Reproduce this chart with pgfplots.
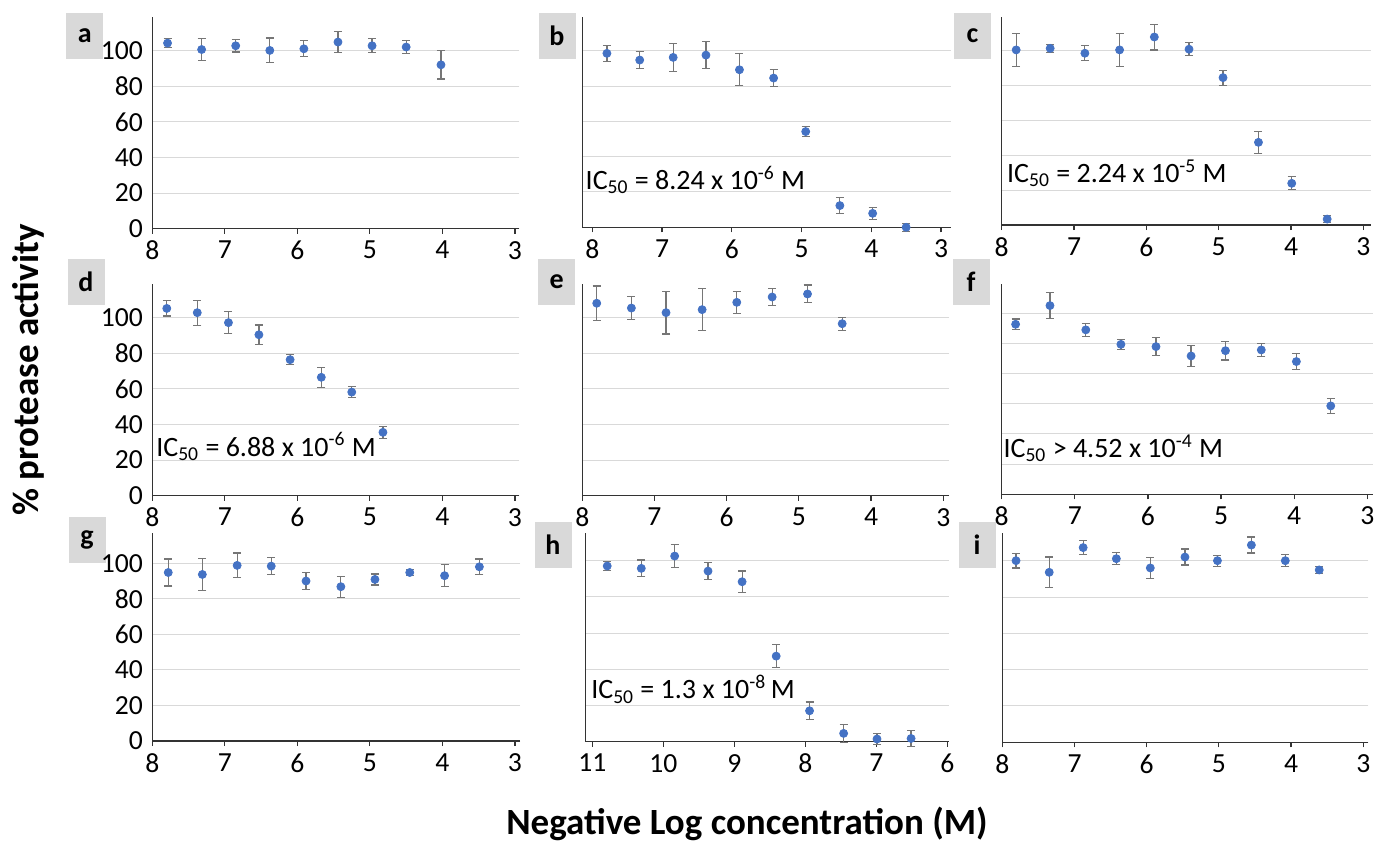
\documentclass[border=0pt]{standalone}
\usepackage{fontspec}
\setmainfont{Carlito}
\usepackage{pgfplots}
\usepackage{pgfplotstable}
\pgfplotsset{compat=1.18}
\definecolor{dotblue}{HTML}{4472C4}
\definecolor{gridgray}{HTML}{D9D9D9}
\definecolor{boxgray}{HTML}{D9D9D9}
\definecolor{errgray}{HTML}{767676}

% panel data: x = -log conc, y = % activity, e = error
\pgfplotstableread{
x y e
7.79 104.3 2.6
7.32 100.7 6.0
6.85 102.8 3.5
6.38 100.2 7.0
5.91 101.1 4.5
5.44 104.9 6.0
4.97 102.8 4.0
4.50 102.1 3.5
4.02 92.1 8.0
}\dataa
\pgfplotstableread{
x y e
7.79 98.5 4.5
7.32 94.7 5.0
6.84 96.2 8.0
6.37 97.5 7.5
5.89 89.2 9.0
5.40 84.5 4.7
4.94 54.2 2.8
4.45 12.3 4.4
3.98 7.9 3.3
3.50 0.0 2.3
}\datab
\pgfplotstableread{
x y e
7.80 100.4 9.6
7.33 101.3 2.4
6.85 98.5 4.4
6.37 100.4 9.6
5.89 107.8 7.4
5.41 100.8 3.7
4.94 84.5 4.3
4.45 47.4 6.4
3.99 23.9 3.7
3.50 3.4 2.0
}\datac
\pgfplotstableread{
x y e
7.80 105.2 4.3
7.38 102.8 7.0
6.95 97.2 6.2
6.53 90.4 5.5
6.10 76.4 2.9
5.67 66.5 5.6
5.25 58.2 3.2
4.82 35.6 3.3
}\datad
\pgfplotstableread{
x y e
7.80 108.1 9.7
7.32 105.4 6.3
6.84 102.8 12.0
6.34 104.5 11.9
5.86 108.6 6.2
5.37 111.6 4.6
4.88 113.3 5.0
4.40 96.6 3.6
}\datae
\pgfplotstableread{
x y e
7.81 112.7 3.5
7.34 125.1 8.5
6.85 109.0 4.2
6.37 99.4 3.4
5.89 97.9 6.1
5.41 91.7 7.0
4.94 95.2 6.2
4.45 95.7 4.2
3.97 88.0 5.5
3.50 58.6 4.9
}\dataf
\pgfplotstableread{
x y e
7.78 94.9 7.6
7.31 93.8 9.1
6.83 98.9 7.0
6.36 98.5 4.7
5.88 90.1 4.7
5.40 86.9 5.9
4.93 91.0 3.1
4.45 94.9 1.6
3.97 93.1 6.3
3.49 98.1 4.4
}\datag
\pgfplotstableread{
x y e
10.79 97.1 2.4
10.31 95.8 4.6
9.84 102.6 6.2
9.37 94.3 4.7
8.89 88.4 5.9
8.41 47.3 6.4
7.94 17.1 4.8
7.46 4.6 5.0
6.99 1.5 3.0
6.51 1.8 4.6
}\datah
\pgfplotstableread{
x y e
7.81 100.0 4.0
7.35 93.6 8.4
6.88 107.2 4.0
6.42 101.1 3.3
5.95 96.0 5.9
5.47 102.0 4.4
5.02 100.0 3.0
4.55 108.6 4.4
4.08 100.0 3.3
3.61 94.9 2.0
}\datai

\pgfplotsset{
  panel/.style={
    scale only axis,
    anchor=south west,
    axis x line=bottom, axis y line=left,
    axis line style={-, draw=black!80, line width=0.6pt},
    x dir=reverse,
    ymin=0,
    ytick={0,20,...,100},
    ymajorgrids,
    grid style={draw=gridgray, line width=0.5pt},
    ytick style={draw=none},
    xtick={3,...,8},
    xtick style={draw=black!80, line width=0.6pt},
    tick align=outside,
    major tick length=2.5pt,
    /pgf/number format/assume math mode=true,
    tick label style={font=\fontsize{13.8}{14}\selectfont},
    yticklabel style={inner sep=0pt, xshift=-2pt},
    xticklabel style={inner sep=0pt, yshift=-3.5pt},
    clip=false,
  },
  noylab/.style={yticklabels={}},
  pts/.style={only marks, mark=*, mark size=2pt,
    mark options={draw=dotblue, fill=dotblue},
    error bars/.cd, y dir=both, y explicit,
    error bar style={draw=errgray, line width=0.6pt},
    error mark options={rotate=90, mark size=2pt, draw=errgray, line width=0.6pt}},
}
\newcommand{\icfont}{\fontsize{14}{16}\selectfont}
\newcommand{\addpts}[1]{\addplot[pts] table[x=x, y=y, y error=e] {#1};}

\begin{document}
\begin{tikzpicture}
\useasboundingbox (0,0) rectangle (692pt,-420.5pt);

% panel letters
\foreach \lab/\px/\py in {a/42.35/-17.9, b/278.5/-17.9, c/486.25/-17.9,
    d/43/-141, e/278.35/-141, f/485.5/-141,
    g/43.5/-270, h/276.5/-272.5, i/488.5/-272.5}{
  \node[fill=boxgray, minimum width=18.5pt, minimum height=22.75pt, inner sep=0pt,
    font=\bfseries\fontsize{14}{14}\selectfont] at (\px pt,\py pt) {\lab};
}

% row 1
\begin{axis}[panel, at={(76.15pt,-114.35pt)}, width=183.5pt, height=105.7pt,
  xmin=2.94, xmax=8, ymax=118.8]
\addpts{\dataa}
\end{axis}
\begin{axis}[panel, noylab, at={(291.15pt,-113.65pt)}, width=184.2pt, height=105pt,
  xmin=2.861, xmax=8.143, ymax=118.9]
\addpts{\datab}
\node[anchor=west, inner sep=0pt, font=\icfont] at (axis cs:8.10,26.8)
  {IC\textsubscript{50} = 8.24 x 10\textsuperscript{-6} M};
\end{axis}
\begin{axis}[panel, noylab, at={(500.85pt,-112.5pt)}, width=184.5pt, height=103.85pt,
  xmin=2.898, xmax=8, ymax=119.1]
\addpts{\datac}
\node[anchor=west, inner sep=0pt, font=\icfont] at (axis cs:7.93,29.6)
  {IC\textsubscript{50} = 2.24 x 10\textsuperscript{-5} M};
\end{axis}

% row 2
\begin{axis}[panel, at={(76.15pt,-247.85pt)}, width=183.5pt, height=105.85pt,
  xmin=2.94, xmax=8, ymax=118.9]
\addpts{\datad}
\node[anchor=west, inner sep=0pt, font=\icfont] at (axis cs:7.95,27.5)
  {IC\textsubscript{50} = 6.88 x 10\textsuperscript{-6} M};
\end{axis}
\begin{axis}[panel, noylab, at={(291.15pt,-247.85pt)}, width=183.35pt, height=105.85pt,
  xmin=2.92, xmax=8, ymax=118.9]
\addpts{\datae}
\end{axis}
\begin{axis}[panel, noylab, at={(500.85pt,-247.15pt)}, width=185.5pt, height=105.15pt,
  xmin=2.926, xmax=8, ymax=139.4, ytick={0,20,...,120}]
\addpts{\dataf}
\node[anchor=west, inner sep=0pt, font=\icfont] at (axis cs:7.98,30.5)
  {IC\textsubscript{50} > 4.52 x 10\textsuperscript{-4} M};
\end{axis}

% row 3
\begin{axis}[panel, at={(76.15pt,-370.5pt)}, width=183.85pt, height=104.15pt,
  xmin=2.93, xmax=8, ymax=117.3]
\addpts{\datag}
\end{axis}
\begin{axis}[panel, noylab, at={(292.85pt,-370.85pt)}, width=181.5pt, height=104.5pt,
  xmin=5.98, xmax=11.093, ymax=115.5, xtick={6,...,11}]
\addpts{\datah}
\node[anchor=west, inner sep=0pt, font=\icfont] at (axis cs:11.02,29.1)
  {IC\textsubscript{50} = 1.3 x 10\textsuperscript{-8}\,M};
\end{axis}
\begin{axis}[panel, noylab, at={(501.15pt,-371.15pt)}, width=183pt, height=104.8pt,
  xmin=2.93, xmax=8, ymax=115.4]
\addpts{\datai}
\end{axis}

% shared axis titles
\node[rotate=90, font=\bfseries\fontsize{18.5}{20}\selectfont] at (14pt,-185pt)
  {\% protease activity};
\node[font=\bfseries\fontsize{18.5}{20}\selectfont] at (373.5pt,-412pt)
  {Negative Log concentration (M)};
\end{tikzpicture}
\end{document}
